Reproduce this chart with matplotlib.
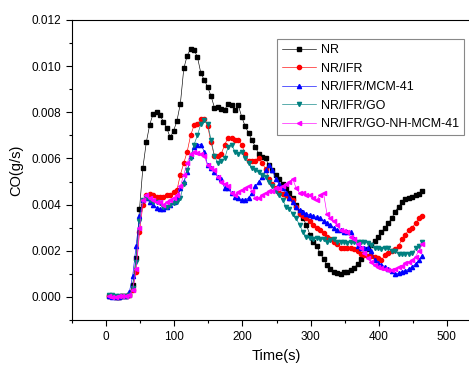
import matplotlib

matplotlib.use("Agg")

import matplotlib.pyplot as plt
from matplotlib.ticker import FormatStrFormatter, MultipleLocator

plt.rcParams["font.family"] = ["Liberation Sans", "DejaVu Sans"]

# time axis: one reading every 5 s
TIME = list(range(4, 465, 5))

NR = [
    0.00005, 0.00002, 0.0, 0.0, 0.00002, 0.00005, 0.0001, 0.0005, 0.0017, 0.0038,
    0.0056, 0.0067, 0.00746, 0.00794, 0.0080, 0.00788, 0.0076, 0.00732, 0.00691, 0.00719,
    0.00764, 0.00838, 0.0099, 0.01046, 0.01075, 0.0107, 0.0104, 0.0097, 0.0094, 0.0091,
    0.0087, 0.0082, 0.00823, 0.00814, 0.0081, 0.00838, 0.00832, 0.0081, 0.0083, 0.0078,
    0.0074, 0.0071, 0.0068, 0.0065, 0.0062, 0.00606, 0.0060, 0.0057, 0.0055, 0.0053,
    0.0051, 0.0049, 0.0047, 0.0045, 0.0043, 0.0040, 0.0037, 0.0034, 0.0031, 0.0027,
    0.0024, 0.0022, 0.0019, 0.00165, 0.0014, 0.00122, 0.0011, 0.00103, 0.00101, 0.00106,
    0.0011, 0.00116, 0.00127, 0.00142, 0.00164, 0.00186, 0.00207, 0.00226, 0.00243, 0.00261,
    0.0028, 0.0030, 0.0032, 0.0034, 0.0037, 0.0039, 0.0041, 0.00425, 0.0043, 0.00435,
    0.0044, 0.00447, 0.0046,
]

NR_IFR = [
    0.00003, 0.00002, 0.0, 0.00001, 0.00002, 0.00003, 0.00008, 0.0003, 0.0011, 0.0028,
    0.0040, 0.0044, 0.00447, 0.0044, 0.00435, 0.00435, 0.00435, 0.0044, 0.00442, 0.00453,
    0.00464, 0.0053, 0.0058, 0.0063, 0.0070, 0.00743, 0.0075, 0.0077, 0.0077, 0.0074,
    0.0067, 0.0061, 0.0061, 0.0062, 0.0066, 0.0069, 0.0069, 0.0068, 0.0068, 0.0066,
    0.0062, 0.0059, 0.0059, 0.0059, 0.0060, 0.0058, 0.00555, 0.0051, 0.0049, 0.0047,
    0.0045, 0.00445, 0.0044, 0.0043, 0.0042, 0.0039, 0.0036, 0.0035, 0.0034, 0.0033,
    0.0031, 0.0030, 0.0029, 0.00275, 0.0026, 0.0025, 0.0024, 0.0023, 0.0021, 0.0021,
    0.00214, 0.0021, 0.00207, 0.0020, 0.00186, 0.0018, 0.00178, 0.00176, 0.00175, 0.0017,
    0.0016, 0.0018, 0.0019, 0.0020, 0.00207, 0.0022, 0.0025, 0.0027, 0.0029, 0.0030,
    0.0032, 0.0034, 0.0035,
]

NR_IFR_MCM = [
    0.00002, 0.0, 0.0, 0.00001, 0.00002, 0.00005, 0.0002, 0.0009, 0.0022, 0.0035,
    0.0042, 0.0043, 0.0041, 0.0040, 0.00386, 0.0038, 0.0038, 0.0039, 0.0040, 0.0041,
    0.0043, 0.0047, 0.0050, 0.0054, 0.0061, 0.0065, 0.0066, 0.0066, 0.0063, 0.0057,
    0.0056, 0.0054, 0.0052, 0.0051, 0.0047, 0.0047, 0.0045, 0.00435, 0.0043, 0.0042,
    0.0042, 0.0043, 0.0045, 0.0048, 0.0050, 0.0052, 0.0055, 0.0057, 0.0055, 0.0051,
    0.0049, 0.0047, 0.0045, 0.0043, 0.0041, 0.0039, 0.00375, 0.00367, 0.0036, 0.00355,
    0.0035, 0.00345, 0.0034, 0.0033, 0.00322, 0.0031, 0.0030, 0.0029, 0.00288, 0.0028,
    0.0028, 0.0028, 0.0025, 0.0022, 0.00214, 0.00214, 0.00214, 0.0020, 0.0016, 0.00145,
    0.0014, 0.0013, 0.0012, 0.00113, 0.0010, 0.00103, 0.0011, 0.00114, 0.0012, 0.0013,
    0.00143, 0.0016, 0.00178,
]

NR_IFR_GO = [
    0.0001, 0.00008, 0.00005, 0.00003, 0.00003, 0.00005, 0.0001, 0.0004, 0.0015, 0.0033,
    0.0042, 0.0043, 0.0042, 0.0041, 0.0041, 0.00407, 0.0039, 0.0039, 0.0040, 0.00406,
    0.0041, 0.0043, 0.0049, 0.0055, 0.0060, 0.0066, 0.0070, 0.0075, 0.00767, 0.0075,
    0.0068, 0.0061, 0.0058, 0.0059, 0.0060, 0.0065, 0.0066, 0.0063, 0.0062, 0.0063,
    0.0060, 0.0058, 0.0056, 0.0055, 0.0054, 0.0053, 0.0052, 0.0050, 0.0048, 0.0046,
    0.0044, 0.0042, 0.0039, 0.0038, 0.0036, 0.0034, 0.0031, 0.0028, 0.0026, 0.00255,
    0.0025, 0.00257, 0.0025, 0.0025, 0.0024, 0.00245, 0.0025, 0.0024, 0.00238, 0.0024,
    0.00235, 0.00238, 0.0024, 0.00238, 0.0024, 0.00238, 0.00235, 0.00226, 0.00214, 0.0021,
    0.00207, 0.00214, 0.0021, 0.0020, 0.0020, 0.00188, 0.00186, 0.00188, 0.00186, 0.0019,
    0.0021, 0.0022, 0.00236,
]

NR_IFR_GO_NH_MCM = [
    0.00002, 0.0, 0.00001, 0.00002, 0.00003, 0.00004, 0.0001, 0.0003, 0.0012, 0.0030,
    0.0042, 0.0044, 0.0043, 0.0042, 0.0041, 0.0041, 0.0040, 0.0041, 0.0042, 0.0043,
    0.0044, 0.0048, 0.0053, 0.0058, 0.0062, 0.0063, 0.00625, 0.0062, 0.0061, 0.0057,
    0.0056, 0.0055, 0.0052, 0.0050, 0.0049, 0.0048, 0.0045, 0.0044, 0.00455, 0.00464,
    0.0047, 0.0048, 0.0046, 0.0043, 0.0043, 0.0044, 0.0045, 0.00458, 0.0046, 0.0047,
    0.0047, 0.0048, 0.0049, 0.0050, 0.0051, 0.0047, 0.0045, 0.0045, 0.0044, 0.0044,
    0.0043, 0.0042, 0.0044, 0.0045, 0.0036, 0.0034, 0.0033, 0.0031, 0.0029, 0.00287,
    0.0028, 0.0026, 0.0025, 0.0023, 0.0021, 0.0019, 0.0017, 0.0015, 0.0014, 0.0013,
    0.00125, 0.0012, 0.00117, 0.00117, 0.0012, 0.00128, 0.00135, 0.00145, 0.0015, 0.0016,
    0.00175, 0.0020, 0.0023,
]

SERIES = [
    ("NR", NR, "#000000", "s"),
    ("NR/IFR", NR_IFR, "#ff0000", "o"),
    ("NR/IFR/MCM-41", NR_IFR_MCM, "#0000ff", "^"),
    ("NR/IFR/GO", NR_IFR_GO, "#008080", "v"),
    ("NR/IFR/GO-NH-MCM-41", NR_IFR_GO_NH_MCM, "#ff00ff", "<"),
]


def main() -> None:
    fig = plt.figure(figsize=(4.69, 3.68), dpi=100)
    # the plot runs past the right edge of the picture, as in the original
    ax = fig.add_axes([72 / 469, 1 - 320 / 368, 409 / 469, 300 / 368])

    for label, values, color, marker in SERIES:
        ax.plot(
            TIME,
            values,
            color=color,
            marker=marker,
            markersize=3,
            linewidth=0.45,
            label=label,
        )

    ax.set_xlim(-50, 550)
    ax.set_ylim(-0.001, 0.012)
    ax.xaxis.set_major_locator(MultipleLocator(100))
    ax.xaxis.set_minor_locator(MultipleLocator(50))
    ax.yaxis.set_major_locator(MultipleLocator(0.002))
    ax.yaxis.set_minor_locator(MultipleLocator(0.001))
    ax.yaxis.set_major_formatter(FormatStrFormatter("%.3f"))
    ax.tick_params(which="both", direction="out", top=False, right=False, labelsize=8.5)
    ax.tick_params(which="major", length=4.5, width=0.8)
    ax.tick_params(which="minor", length=2.5, width=0.8)
    ax.spines["right"].set_visible(False)

    ax.set_xlabel("Time(s)", fontsize=10.5, labelpad=4)
    ax.set_ylabel("CO(g/s)", fontsize=10.5, labelpad=6)

    legend = ax.legend(
        loc="upper left",
        bbox_to_anchor=(271 / 469, 1 - 33 / 368),
        bbox_transform=fig.transFigure,
        fontsize=9,
        fancybox=False,
        edgecolor="#888888",
        framealpha=1,
        handlelength=2.7,
        handletextpad=0.4,
        labelspacing=0.52,
        borderpad=0.4,
        numpoints=1,
    )
    legend.get_frame().set_linewidth(0.8)

    fig.savefig("out.png", dpi=100)
    plt.close(fig)


if __name__ == "__main__":
    main()
